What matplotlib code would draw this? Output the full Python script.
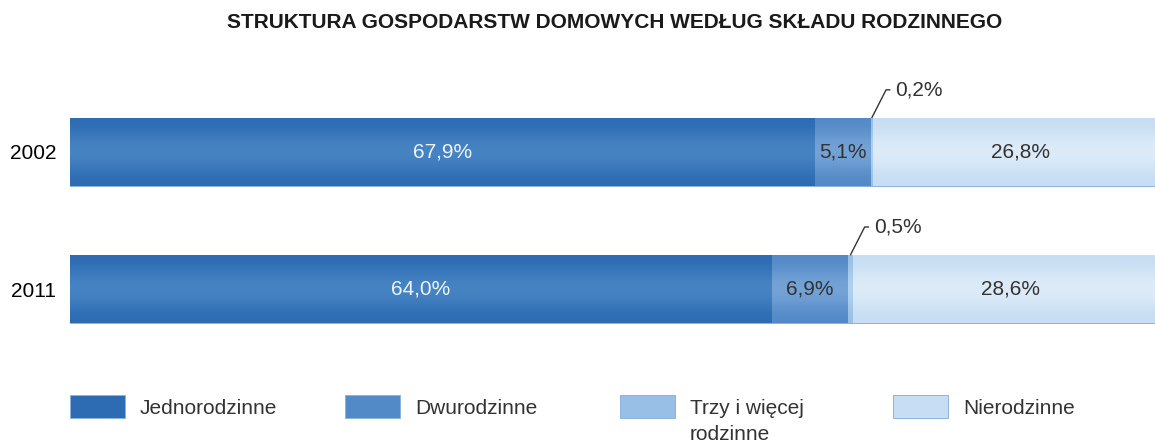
import numpy as np
import matplotlib.pyplot as plt
from matplotlib.patches import Rectangle
from matplotlib.colors import LinearSegmentedColormap

years = ['2002', '2011']
categories = ['Jednorodzinne', 'Dwurodzinne', 'Trzy i więcej\nrodzinne', 'Nierodzinne']
values = {
    'Jednorodzinne': [67.9, 64.0],
    'Dwurodzinne': [5.1, 6.9],
    'Trzy i więcej\nrodzinne': [0.2, 0.5],
    'Nierodzinne': [26.8, 28.6],
}
colors = ['#2d6bb3', '#5289c7', '#98bfe6', '#c6ddf3']
lights = ['#4a87c5', '#79a6d8', '#b5d3f0', '#e0edf9']

plt.rcParams['font.family'] = ['Liberation Sans', 'DejaVu Sans']

fig = plt.figure(figsize=(11.55, 4.43), dpi=100)
# bars run past the right edge of the picture in the original
ax = fig.add_axes([70 / 1155, 73 / 443, 1097 / 1155, 310 / 443])

y = np.arange(len(years))
left = np.zeros(len(years))
for i, cat in enumerate(categories):
    vals = np.array(values[cat])
    bars = ax.barh(y, vals, left=left, height=0.5, color=colors[i],
                   edgecolor='#8db2dc', linewidth=0.7, zorder=2)
    cmap = LinearSegmentedColormap.from_list('g', [colors[i], lights[i]])
    grad = np.array([[0.0], [0.6], [1.0], [0.6], [0.0]])
    for b in bars:
        im = ax.imshow(grad, cmap=cmap, vmin=0, vmax=1, aspect='auto',
                       interpolation='bicubic',
                       extent=[b.get_x(), b.get_x() + b.get_width(),
                               b.get_y() + b.get_height(), b.get_y()], zorder=2.5)
        im.set_clip_path(b)
    for j, v in enumerate(vals):
        lab = f'{v:.1f}'.replace('.', ',') + '%'
        cx = left[j] + v / 2
        if v >= 2:
            ax.text(cx, y[j], lab, ha='center', va='center', fontsize=15,
                    color='#eef3fa' if i == 0 else '#333333', zorder=4)
        else:
            ax.annotate(lab, xy=(cx, y[j] - 0.25), xytext=(17, 20),
                        textcoords='offset points', ha='left', va='center',
                        fontsize=15, color='#333333',
                        arrowprops=dict(arrowstyle='-', color='#333333', lw=1,
                                        shrinkA=2, shrinkB=0, relpos=(0, 0.5),
                                        connectionstyle='angle,angleA=0,angleB=63,rad=0'))
    left = left + vals

ax.set_xlim(0, 100)
ax.set_ylim(1.59, -0.67)
ax.set_yticks(y)
ax.set_yticklabels(years, fontsize=15)
ax.set_xticks([])
ax.tick_params(axis='y', length=0, pad=10)
for s in ax.spines.values():
    s.set_visible(False)

fig.text(615 / 1155, 1 - 23 / 443, 'STRUKTURA GOSPODARSTW DOMOWYCH WEDŁUG SKŁADU RODZINNEGO',
         ha='center', va='center', fontsize=15, fontweight='bold', color='#1a1a1a')

# legend
leg_x = [70, 345, 620, 893]
for i, cat in enumerate(categories):
    fig.patches.append(Rectangle((leg_x[i] / 1155, 1 - 418 / 443), 55 / 1155, 23 / 443,
                                 transform=fig.transFigure, facecolor=colors[i],
                                 edgecolor='#8db2dc', linewidth=0.7))
    fig.text((leg_x[i] + 70) / 1155, 1 - 399 / 443, cat, ha='left', va='top',
             fontsize=15, color='#333333', linespacing=1.45)

fig.savefig('out.png', dpi=100)
